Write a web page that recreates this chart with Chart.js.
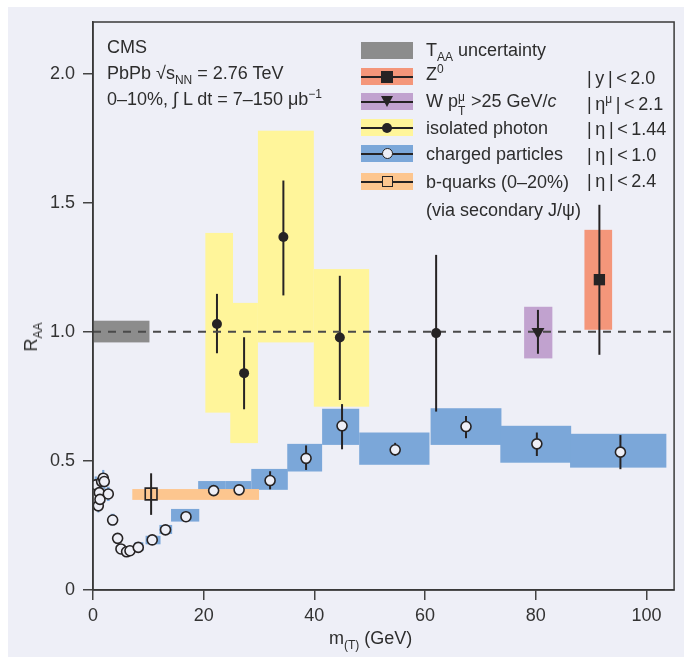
<!DOCTYPE html>
<html>
<head>
<meta charset="utf-8">
<script src="https://cdn.jsdelivr.net/npm/chart.js@4.4.1/dist/chart.umd.min.js"></script>
<style>
html, body { margin: 0; padding: 0; background: #fff; }
#wrap { position: relative; width: 684px; height: 657px; overflow: hidden;
  font-family: "Liberation Sans", Arial, sans-serif; font-size: 18px; color: #2d2d2d; }
#bg { position: absolute; left: 8px; top: 7px; right: 0; bottom: 0; background: #eeeff7; }
canvas { position: absolute; left: 0; top: 0; }
.t { position: absolute; white-space: nowrap; line-height: 20px; }
.sb { font-size: 12px; position: relative; top: 5px; }
.sp { font-size: 12px; position: relative; top: -7px; }
.sw { position: absolute; left: 361px; width: 52px; height: 17px; }
.sw .ln { position: absolute; left: 0; right: 0; top: 7.5px; height: 2px; background: #262324; }
.mk { position: absolute; box-sizing: border-box; }
.stk { display: inline-block; position: relative; width: 8px; height: 10px; }
.stk span { position: absolute; left: 0; font-size: 12px; line-height: 12px; }
</style>
</head>
<body>
<div id="wrap">
  <div id="bg"></div>
  <canvas id="chart" width="684" height="657"></canvas>

  <div class="t" style="left:107px; top:37px">CMS</div>
  <div class="t" style="left:107px; top:63px">PbPb √s<span class="sb">NN</span> = 2.76 TeV</div>
  <div class="t" style="left:107px; top:89px">0–10%, ∫ L dt = 7–150 μb<span class="sp">−1</span></div>

  <div class="sw" style="top:42px; background:#8c8c8c"></div>
  <div class="t" style="left:426px; top:40px">T<span class="sb">AA</span> uncertainty</div>

  <div class="sw" style="top:68px; background:#f4967a"><div class="ln"></div>
    <div class="mk" style="left:20px; top:2.5px; width:12px; height:12px; background:#262324"></div></div>
  <div class="t" style="left:426px; top:64px">Z<span class="sp">0</span></div>
  <div class="t" style="left:587px; top:68px">|&thinsp;y&thinsp;|&thinsp;&lt;&thinsp;2.0</div>

  <div class="sw" style="top:93px; background:#c1a2cf"><div class="ln"></div>
    <div class="mk" style="left:19.5px; top:3px; width:0; height:0; border-left:6.5px solid transparent; border-right:6.5px solid transparent; border-top:11px solid #262324"></div></div>
  <div class="t" style="left:426px; top:91px">W p<span class="stk"><span style="top:-6px">μ</span><span style="top:8px">T</span></span> &gt;25 GeV/<i>c</i></div>
  <div class="t" style="left:587px; top:94px">|&thinsp;η<span class="sp">μ</span>&thinsp;|&thinsp;&lt;&thinsp;2.1</div>

  <div class="sw" style="top:119px; background:#fff59a"><div class="ln"></div>
    <div class="mk" style="left:21px; top:3.5px; width:10px; height:10px; border-radius:50%; background:#262324"></div></div>
  <div class="t" style="left:426px; top:118px">isolated photon</div>
  <div class="t" style="left:587px; top:119px">|&thinsp;η&thinsp;|&thinsp;&lt;&thinsp;1.44</div>

  <div class="sw" style="top:145px; background:#7ba7d9"><div class="ln"></div>
    <div class="mk" style="left:20.5px; top:3px; width:11px; height:11px; border-radius:50%; border:1.6px solid #262324; background:#eeeff7"></div></div>
  <div class="t" style="left:426px; top:144px">charged particles</div>
  <div class="t" style="left:587px; top:145px">|&thinsp;η&thinsp;|&thinsp;&lt;&thinsp;1.0</div>

  <div class="sw" style="top:173px; background:#fdc68f"><div class="ln"></div>
    <div class="mk" style="left:20.5px; top:3px; width:11px; height:11px; border:1.6px solid #262324; background:#fdc68f"></div></div>
  <div class="t" style="left:426px; top:172px">b-quarks (0–20%)</div>
  <div class="t" style="left:587px; top:171px">|&thinsp;η&thinsp;|&thinsp;&lt;&thinsp;2.4</div>
  <div class="t" style="left:426px; top:200px">(via secondary J/ψ)</div>

  <div class="t" style="left:329px; top:628px">m<span class="sb">(T)</span> (GeV)</div>
  <div class="t" style="left:32px; top:337px; transform:translate(-50%,-50%) rotate(-90deg)">R<span class="sb">AA</span></div>
</div>

<script>
// axis ticks
const xTicks = [0, 20, 40, 60, 80, 100]
const yTicks = [0, 0.5, 1.0, 1.5, 2.0]

// charged particles |eta|<1.0
const chX = [0.5, 0.96, 1.14, 1.26, 1.56, 1.86, 2.04, 2.76, 3.55, 4.45, 5.05, 6.07, 6.68, 8.18, 10.7, 13.1, 16.8, 21.8, 26.4, 32.0, 38.5, 45.0, 54.6, 67.4, 80.2, 95.3]
const chY = [0.407, 0.326, 0.377, 0.351, 0.42, 0.433, 0.42, 0.372, 0.271, 0.2, 0.159, 0.148, 0.152, 0.165, 0.194, 0.233, 0.284, 0.385, 0.388, 0.424, 0.51, 0.636, 0.543, 0.633, 0.566, 0.534]
const chErrLo = [null, null, null, null, null, null, null, null, null, null, null, null, null, null, null, null, null, null, null, 0.39, 0.465, 0.545, 0.52, 0.588, 0.519, 0.468]
const chErrHi = [null, null, null, null, null, null, null, null, null, null, null, null, null, null, null, null, null, null, null, 0.46, 0.56, 0.72, 0.57, 0.674, 0.61, 0.60]
const chBoxX0 = [0.3, 0.8, 0.95, 1.05, 1.35, 1.65, 1.85, 2.5, 3.2, 4.1, 4.7, 5.7, 6.3, 7.5, 9.5, 12.0, 14.1, 19.0, 24.0, 28.6, 35.1, 41.4, 48.1, 61.0, 73.6, 86.2]
const chBoxX1 = [0.7, 1.15, 1.3, 1.45, 1.75, 2.05, 2.25, 3.0, 3.9, 4.8, 5.4, 6.4, 7.0, 9.1, 12.2, 14.3, 19.2, 24.0, 28.6, 35.2, 41.4, 48.1, 60.8, 73.8, 86.4, 103.6]
const chBoxY0 = [0.375, 0.3, 0.35, 0.325, 0.39, 0.4, 0.39, 0.345, 0.25, 0.18, 0.14, 0.13, 0.135, 0.151, 0.177, 0.217, 0.265, 0.355, 0.355, 0.388, 0.459, 0.562, 0.485, 0.562, 0.493, 0.474]
const chBoxY1 = [0.44, 0.355, 0.405, 0.38, 0.45, 0.465, 0.45, 0.4, 0.295, 0.22, 0.178, 0.165, 0.17, 0.185, 0.21, 0.252, 0.314, 0.422, 0.422, 0.469, 0.566, 0.702, 0.61, 0.704, 0.636, 0.605]

// isolated photon |eta|<1.44
const phX = [22.4, 27.3, 34.4, 44.6, 62.0]
const phY = [1.03, 0.84, 1.367, 0.978, 0.995]
const phErrLo = [0.917, 0.70, 1.141, 0.736, 0.691]
const phErrHi = [1.147, 0.979, 1.586, 1.217, 1.298]
const phBoxX0 = [20.3, 24.8, 29.8, 39.9, null]
const phBoxX1 = [25.3, 29.8, 39.9, 49.9, null]
const phBoxY0 = [0.687, 0.569, 0.959, 0.710, null]
const phBoxY1 = [1.383, 1.112, 1.779, 1.243, null]

// Z0 |y|<2.0
const zX = [91.5], zY = [1.202], zErrLo = [0.911], zErrHi = [1.492]
const zBoxX0 = [88.8], zBoxX1 = [93.8], zBoxY0 = [1.008], zBoxY1 = [1.395]

// W, pT mu > 25 GeV/c
const wX = [80.4], wY = [1.0], wErrLo = [0.915], wErrHi = [1.085]
const wBoxX0 = [77.9], wBoxX1 = [83.0], wBoxY0 = [0.897], wBoxY1 = [1.097]

// b-quarks via secondary J/psi
const bX = [10.5], bY = [0.372], bErrLo = [0.291], bErrHi = [0.452]
const bBoxX0 = [7.1], bBoxX1 = [30.0], bBoxY0 = [0.349], bBoxY1 = [0.391]

// T_AA uncertainty band
const taaX0 = [0], taaX1 = [10.2], taaY0 = [0.959], taaY1 = [1.043]

const ink = '#262324'
const lavender = '#eeeff7'
const font = { family: "'Liberation Sans', Arial, sans-serif", size: 18 }

// drawn back to front
const boxSets = [
    { color: '#8c8c8c', x0: taaX0, x1: taaX1, y0: taaY0, y1: taaY1 },
    { color: '#fff59a', x0: phBoxX0, x1: phBoxX1, y0: phBoxY0, y1: phBoxY1 },
    { color: '#7ba7d9', x0: chBoxX0, x1: chBoxX1, y0: chBoxY0, y1: chBoxY1 },
    { color: '#fdc68f', x0: bBoxX0, x1: bBoxX1, y0: bBoxY0, y1: bBoxY1 },
    { color: '#c1a2cf', x0: wBoxX0, x1: wBoxX1, y0: wBoxY0, y1: wBoxY1 },
    { color: '#f4967a', x0: zBoxX0, x1: zBoxX1, y0: zBoxY0, y1: zBoxY1 }
]
const errSets = [
    { x: chX, lo: chErrLo, hi: chErrHi },
    { x: phX, lo: phErrLo, hi: phErrHi },
    { x: zX, lo: zErrLo, hi: zErrHi },
    { x: wX, lo: wErrLo, hi: wErrHi },
    { x: bX, lo: bErrLo, hi: bErrHi }
]

const toPoints = (xs, ys) => xs.map((v, i) => ({ x: v, y: ys[i] }))

const bandsPlugin = {
    id: 'bands',
    beforeDatasetsDraw(chart) {
        const { ctx, chartArea: a, scales: { x, y } } = chart
        ctx.save()
        ctx.beginPath()
        ctx.rect(a.left, a.top, a.right - a.left, a.bottom - a.top)
        ctx.clip()
        boxSets.forEach(set => {
            ctx.fillStyle = set.color
            set.x0.forEach((v, i) => {
                if (v == null) return
                const l = x.getPixelForValue(v), r = x.getPixelForValue(set.x1[i])
                const t = y.getPixelForValue(set.y1[i]), b = y.getPixelForValue(set.y0[i])
                ctx.fillRect(l, t, r - l, b - t)
            })
        })
        ctx.strokeStyle = ink
        ctx.lineWidth = 2
        errSets.forEach(set => {
            set.x.forEach((v, i) => {
                if (set.lo[i] == null) return
                const px = x.getPixelForValue(v)
                ctx.beginPath()
                ctx.moveTo(px, y.getPixelForValue(set.lo[i]))
                ctx.lineTo(px, y.getPixelForValue(set.hi[i]))
                ctx.stroke()
            })
        })
        ctx.restore()
    },
    afterDatasetsDraw(chart) {
        const { ctx, chartArea: a } = chart
        ctx.save()
        ctx.strokeStyle = '#3a3a3a'
        ctx.lineWidth = 1.5
        ctx.strokeRect(a.left, a.top, a.right - a.left, a.bottom - a.top)
        ctx.restore()
    }
}

const ctx = document.getElementById('chart').getContext('2d')
new Chart(ctx, {
    type: 'scatter',
    data: {
        datasets: [
            { data: toPoints(zX, zY), pointStyle: 'rect', pointRadius: 8, backgroundColor: ink, borderColor: ink, borderWidth: 0 },
            { data: toPoints(wX, wY), pointStyle: 'triangle', rotation: 180, pointRadius: 7.5, backgroundColor: ink, borderColor: ink, borderWidth: 0 },
            { data: toPoints(phX, phY), pointStyle: 'circle', pointRadius: 5, backgroundColor: ink, borderColor: ink, borderWidth: 0 },
            { data: toPoints(chX, chY), pointStyle: 'circle', pointRadius: 5, backgroundColor: lavender, borderColor: ink, borderWidth: 1.6 },
            { data: toPoints(bX, bY), pointStyle: 'rect', pointRadius: 8.3, backgroundColor: 'rgba(0,0,0,0)', borderColor: ink, borderWidth: 1.6 },
            // R_AA = 1 reference
            { type: 'line', data: [{ x: 0, y: 1 }, { x: 105, y: 1 }], borderColor: '#4a4a4a', borderWidth: 2, borderDash: [8, 7], pointRadius: 0 }
        ]
    },
    options: {
        responsive: false,
        animation: false,
        layout: { padding: { top: 22, right: 9, left: 0, bottom: 0 } },
        plugins: { legend: { display: false }, tooltip: { enabled: false } },
        scales: {
            x: {
                type: 'linear', min: 0, max: 105,
                afterBuildTicks: s => { s.ticks = xTicks.map(v => ({ value: v })) },
                afterFit: s => { s.height = 67 },
                grid: { drawOnChartArea: false, tickLength: 10, color: '#444', lineWidth: 1.5 },
                border: { color: '#3a3a3a', width: 1.5 },
                ticks: { font, color: '#333', padding: 5, maxRotation: 0, autoSkip: false }
            },
            y: {
                type: 'linear', min: 0, max: 2.2,
                afterBuildTicks: s => { s.ticks = yTicks.map(v => ({ value: v })) },
                afterFit: s => { s.width = 93 },
                grid: { drawOnChartArea: false, tickLength: 10, color: '#444', lineWidth: 1.5 },
                border: { color: '#3a3a3a', width: 1.5 },
                ticks: { font, color: '#333', padding: 8, autoSkip: false, callback: v => v === 0 ? '0' : v.toFixed(1) }
            }
        }
    },
    plugins: [bandsPlugin]
})
</script>
</body>
</html>
